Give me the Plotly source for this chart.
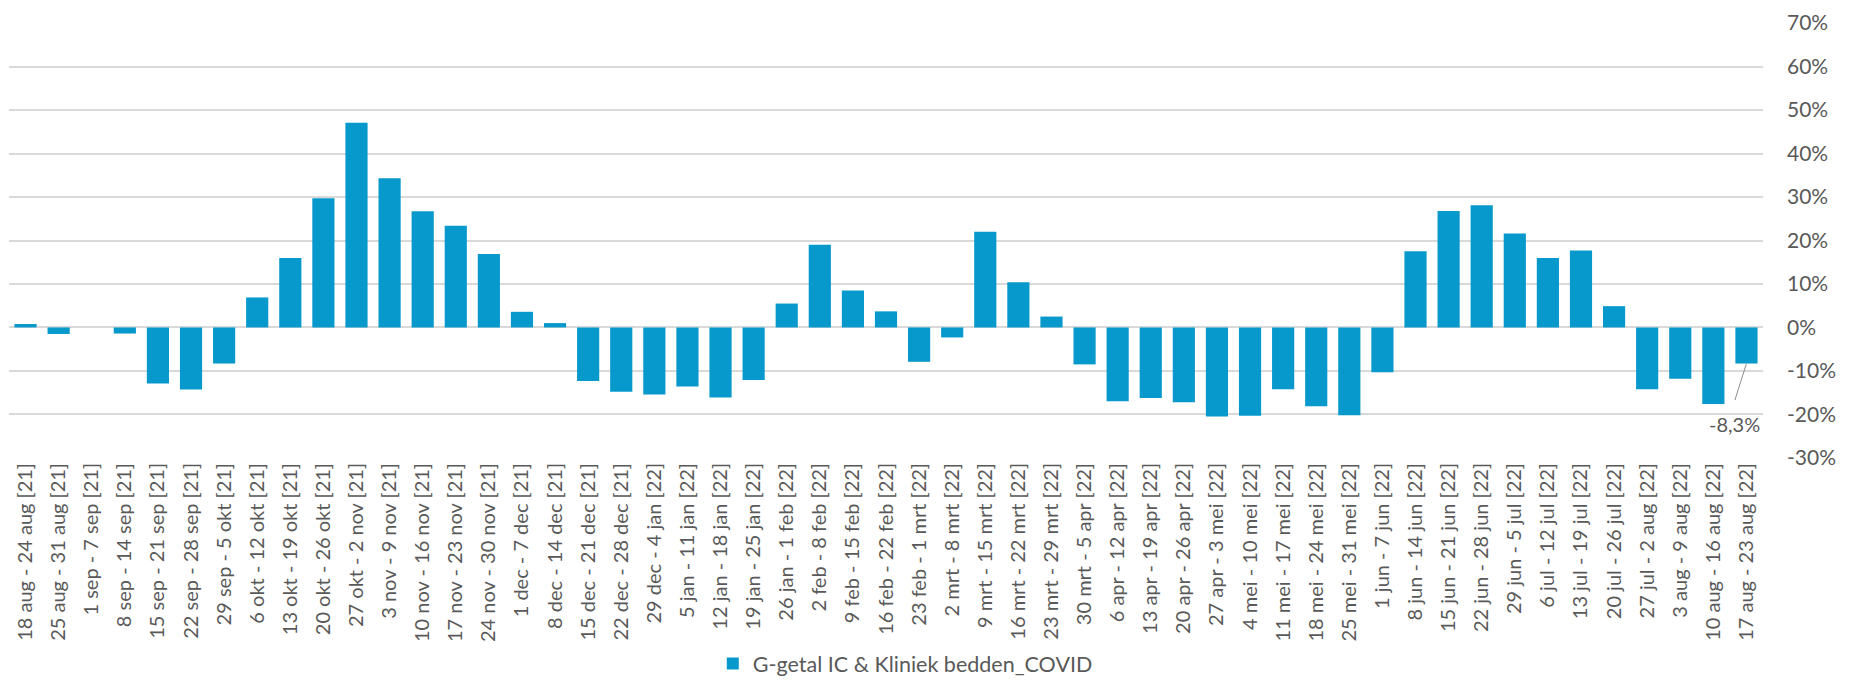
import plotly.graph_objects as go

categories = [
    "18 aug - 24 aug [21]", "25 aug - 31 aug [21]", "1 sep - 7 sep [21]", "8 sep - 14 sep [21]",
    "15 sep - 21 sep [21]", "22 sep - 28 sep [21]", "29 sep - 5 okt [21]", "6 okt - 12 okt [21]",
    "13 okt - 19 okt [21]", "20 okt - 26 okt [21]", "27 okt - 2 nov [21]", "3 nov - 9 nov [21]",
    "10 nov - 16 nov [21]", "17 nov - 23 nov [21]", "24 nov - 30 nov [21]", "1 dec - 7 dec [21]",
    "8 dec - 14 dec [21]", "15 dec - 21 dec [21]", "22 dec - 28 dec [21]", "29 dec - 4 jan [22]",
    "5 jan - 11 jan [22]", "12 jan - 18 jan [22]", "19 jan - 25 jan [22]", "26 jan - 1 feb [22]",
    "2 feb - 8 feb [22]", "9 feb - 15 feb [22]", "16 feb - 22 feb [22]", "23 feb - 1 mrt [22]",
    "2 mrt - 8 mrt [22]", "9 mrt - 15 mrt [22]", "16 mrt - 22 mrt [22]", "23 mrt - 29 mrt [22]",
    "30 mrt - 5 apr [22]", "6 apr - 12 apr [22]", "13 apr - 19 apr [22]", "20 apr - 26 apr [22]",
    "27 apr - 3 mei [22]", "4 mei - 10 mei [22]", "11 mei - 17 mei [22]", "18 mei - 24 mei [22]",
    "25 mei - 31 mei [22]", "1 jun - 7 jun [22]", "8 jun - 14 jun [22]", "15 jun - 21 jun [22]",
    "22 jun - 28 jun [22]", "29 jun - 5 jul [22]", "6 jul - 12 jul [22]", "13 jul - 19 jul [22]",
    "20 jul - 26 jul [22]", "27 jul - 2 aug [22]", "3 aug - 9 aug [22]", "10 aug - 16 aug [22]",
    "17 aug - 23 aug [22]",
]

values = [
    0.8, -1.5, 0.0, -1.4, -12.9, -14.3, -8.3, 6.9, 16.0, 29.7, 47.1, 34.3, 26.7, 23.4, 16.9,
    3.6, 1.0, -12.3, -14.8, -15.4, -13.6, -16.1, -12.1, 5.5, 19.0, 8.5, 3.7, -7.9, -2.3, 22.0,
    10.4, 2.5, -8.5, -17.0, -16.2, -17.2, -20.5, -20.3, -14.2, -18.1, -20.2, -10.3, 17.5, 26.8,
    28.1, 21.6, 16.0, 17.7, 4.9, -14.2, -11.8, -17.6, -8.3,
]

series_name = "G-getal IC & Kliniek bedden_COVID"
y_ticks = [-30, -20, -10, 0, 10, 20, 30, 40, 50, 60, 70]
y_ticktext = [f"{v}%" for v in y_ticks]

FONT = "Lato, 'Open Sans', sans-serif"
GRAY = "#595959"
BAR = "#0799cc"

fig = go.Figure()
fig.add_trace(go.Bar(
    x=categories, y=values, name=series_name,
    marker=dict(color=BAR, line=dict(width=0)),
    showlegend=True,
))

# leader line for the data label of the last bar
fig.add_annotation(
    x=categories[-1], y=values[-1], text="",
    showarrow=True, arrowhead=0, arrowwidth=1, arrowcolor="#8c8c8c",
    ax=-12, ay=38, standoff=0,
)
last_label = f"{values[-1]:.1f}%".replace(".", ",")
fig.add_annotation(
    x=categories[-1], y=values[-1], text=last_label,
    showarrow=False, xanchor="right", yanchor="middle",
    xshift=16, yshift=-60,
    font=dict(family=FONT, size=20, color=GRAY),
)

fig.update_layout(
    width=1841, height=676,
    paper_bgcolor="white", plot_bgcolor="white",
    margin=dict(l=1, r=86, t=9, b=221),
    bargap=0.33,
    font=dict(family=FONT, color=GRAY),
    legend=dict(
        orientation="h", x=0.511, xanchor="center", y=12, yanchor="middle",
        yref="container", font=dict(family=FONT, size=21.5, color=GRAY),
    ),
    xaxis=dict(
        type="category", tickangle=-90, tickfont=dict(family=FONT, size=20, color=GRAY),
        showgrid=False, zeroline=False, showline=False, ticks="",
    ),
    yaxis=dict(
        side="right", range=[-30.03, 70.03], tickvals=y_ticks, ticktext=y_ticktext,
        tickfont=dict(family=FONT, size=21, color=GRAY),
        showgrid=True, gridcolor="#d9d9d9", gridwidth=1.5,
        zeroline=True, zerolinecolor="#d9d9d9", zerolinewidth=1.5,
        showline=False, ticklabelstandoff=23, ticklabeloverflow="allow",
    ),
)

fig.write_html("out.html")
